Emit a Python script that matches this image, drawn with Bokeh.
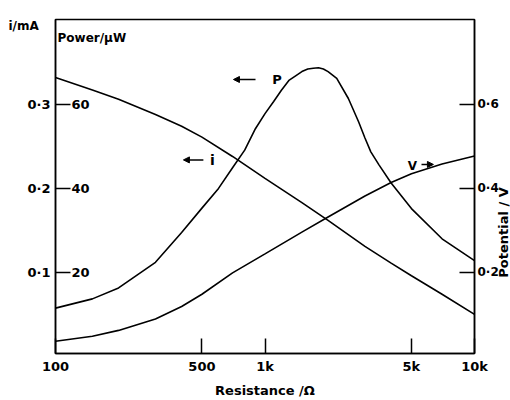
import math
from bokeh.plotting import figure
from bokeh.models import Range1d, LinearAxis, FixedTicker, Label, Arrow, NormalHead
from bokeh.core.properties import value
from bokeh.embed import file_html
from bokeh.resources import INLINE

# ---------------- data ----------------
resistance_iv = [100, 150, 200, 300, 400, 500, 700, 1000, 1500, 2000, 3000, 4000, 5000, 7000, 10000]
current_mA = [0.332, 0.317, 0.306, 0.288, 0.274, 0.261, 0.238, 0.212, 0.183, 0.162, 0.131, 0.111, 0.096, 0.074, 0.050]
potential_V = [0.036, 0.048, 0.062, 0.089, 0.119, 0.148, 0.199, 0.244, 0.296, 0.332, 0.382, 0.414, 0.435, 0.458, 0.477]

resistance_p = [100, 150, 200, 300, 400, 500, 600, 700, 800, 900, 1000, 1100, 1200, 1300, 1400, 1500, 1600,
                1700, 1800, 1900, 2000, 2200, 2500, 2800, 3000, 3200, 3500, 4000, 5000, 7000, 10000]
power_uW = [11.5, 13.7, 16.3, 22.4, 29.5, 35.3, 40.0, 44.9, 49.1, 54.2, 57.8, 60.7, 63.4, 65.7, 66.8, 67.8, 68.4,
            68.6, 68.7, 68.4, 67.8, 66.2, 61.4, 55.8, 52.0, 48.7, 45.6, 41.3, 35.2, 28.0, 22.8]

x_ticks = [100, 500, 1000, 5000, 10000]
x_tick_labels = ["100", "500", "1k", "5k", "10k"]
i_ticks = [0.1, 0.2, 0.3]
i_tick_labels = ["0·1", "0·2", "0·3"]
p_ticks = [20, 40, 60]
p_tick_labels = ["20", "40", "60"]
v_ticks = [0.2, 0.4, 0.6]
v_tick_labels = ["0·2", "0·4", "0·6"]

FONT = "DejaVu Sans"
I_LO, I_HI = 0.0035, 0.401

p = figure(width=510, height=400, x_axis_type="log", x_range=Range1d(100, 10000),
           y_range=Range1d(I_LO, I_HI), output_backend="svg", toolbar_location=None,
           min_border_left=55, min_border_right=36, min_border_top=19, min_border_bottom=45,
           background_fill_color="white", border_fill_color="white")
p.extra_y_ranges = {"power": Range1d(I_LO * 200, I_HI * 200), "pot": Range1d(I_LO * 2, I_HI * 2)}
p.grid.visible = False
p.outline_line_color = "black"
p.outline_line_width = 1.5


def style_axis(ax, ticks, labels, standoff, size="13px"):
    ax.ticker = FixedTicker(ticks=ticks, minor_ticks=[])
    ax.major_label_overrides = {t: l for t, l in zip(ticks, labels)}
    ax.major_tick_in = 15
    ax.major_tick_out = 0
    ax.minor_tick_in = 0
    ax.minor_tick_out = 0
    ax.major_tick_line_width = 1.5
    ax.axis_line_width = 1.5
    ax.major_label_text_font = FONT
    ax.major_label_text_font_style = "bold"
    ax.major_label_text_font_size = size
    ax.major_label_text_color = "black"
    ax.major_label_standoff = standoff
    ax.axis_label_text_font = FONT
    ax.axis_label_text_font_style = "bold"
    ax.axis_label_text_font_size = "13px"
    ax.axis_label_text_color = "black"


# bottom axis
xa = p.xaxis[0]
style_axis(xa, x_ticks, x_tick_labels, 5)
xa.axis_label = "Resistance /Ω"
xa.axis_label_standoff = 6

# left axis (current)
ya = p.yaxis[0]
style_axis(ya, i_ticks, i_tick_labels, 5)
ya.major_label_orientation = "horizontal"

# right axis (potential)
ra = LinearAxis(y_range_name="pot")
style_axis(ra, v_ticks, v_tick_labels, 3, size="12px")
ra.major_label_orientation = "horizontal"
p.add_layout(ra, "right")

# axis names outside the frame (placed in side panels so they are not clipped)
p.add_layout(Label(x=503, y=232, x_units="canvas", y_units="canvas", text="Potential / V",
                   text_font=FONT, text_font_style="bold", text_font_size="13px", text_align="center",
                   text_baseline="middle", angle=math.pi / 2, text_color="black"), "left")
p.add_layout(Label(x=8, y=25, x_units="canvas", y_units="canvas", text="i/mA",
                   text_font=FONT, text_font_style="bold", text_font_size="12px", text_align="left",
                   text_baseline="middle", text_color="black"), "above")

# curves
p.line(resistance_iv, current_mA, line_color="black", line_width=1.6)
p.line(resistance_iv, potential_V, line_color="black", line_width=1.6, y_range_name="pot")
p.line(resistance_p, power_uW, line_color="black", line_width=1.6, y_range_name="power")

# power tick labels inside the frame
p.text(x=[100] * len(p_ticks), y=p_ticks, text=p_tick_labels, y_range_name="power",
       x_offset=16, text_align="left", text_baseline="middle",
       text_font=value(FONT), text_font_style="bold", text_font_size="13px", text_color="black")


def lab(txt, x, y, xo=0, yo=0, size="13px", align="left"):
    p.add_layout(Label(x=x, y=y, x_offset=xo, y_offset=yo, text=txt, text_font=FONT,
                       text_font_style="bold", text_font_size=size, text_align=align,
                       text_baseline="middle", text_color="black"))


lab("Power/µW", 100, I_HI, xo=2, yo=-18, size="12px")


# curve annotations
def arrow(x0, x1, y):
    p.add_layout(Arrow(end=NormalHead(size=6, fill_color="black", line_color="black"),
                       x_start=x0, y_start=y, x_end=x1, y_end=y, line_width=1.5, line_color="black"))


arrow(901, 707, 0.3296)
lab("P", 1141, 0.3296, size="13px", align="center")
arrow(508, 408, 0.2339)
lab("i", 561, 0.2339, size="14px", align="center")
lab("V", 5058, 0.2268, size="12px", align="center")
arrow(5585, 6366, 0.2285)

open("out.html", "w").write(file_html(p, INLINE))
